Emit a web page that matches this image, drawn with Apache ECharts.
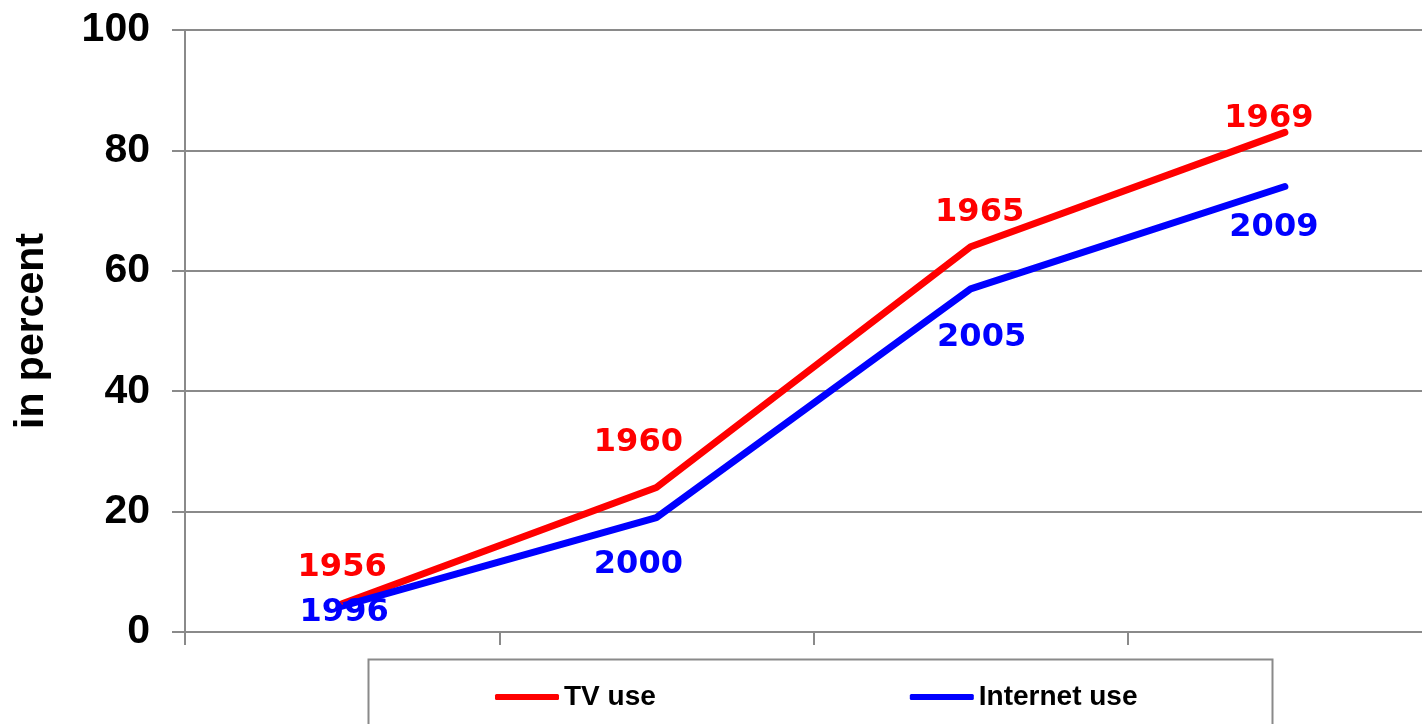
<!DOCTYPE html>
<html>
<head>
<meta charset="utf-8">
<script src="https://cdn.jsdelivr.net/npm/echarts@6/dist/echarts.min.js"></script>
<style>
    html, body { margin: 0; padding: 0; background: #fff; }
    #main { width: 1422px; height: 724px; }
</style>
</head>
<body>
<div id="main"></div>
<script>
// data
var categories = ['1956 / 1996', '1960 / 2000', '1965 / 2005', '1969 / 2009'];
var tvYears = ['1956', '1960', '1965', '1969'];
var netYears = ['1996', '2000', '2005', '2009'];
var tvUse = [4.7, 24, 64, 83];
var internetUse = [4.3, 19, 57, 74];
var yTicks = [0, 20, 40, 60, 80, 100];

// label placement (px from the point), layout only
var tvLabelShift = [[0, -36], [-18, -45], [9, -34], [-16, -14]];
var netLabelShift = [[2, 7], [-18, 47], [11, 49], [-11, 41]];

var GRAY = '#8a8a8a';
var chart = echarts.init(document.getElementById('main'));

var buildData = function (values, shifts) {
    return values.map(function (v, i) {
        return {value: v, label: {offset: shifts[i]}};
    });
};

var option = {
    backgroundColor: '#fff',
    animation: false,
    grid: {left: 185, top: 30, bottom: 92, right: -20, containLabel: false, outerBoundsMode: 'none'},
    xAxis: {
        type: 'category',
        data: categories,
        boundaryGap: true,
        axisLine: {lineStyle: {color: GRAY, width: 2}},
        axisTick: {show: true, length: 13, lineStyle: {color: GRAY, width: 2}},
        axisLabel: {show: false},
        splitLine: {show: false}
    },
    yAxis: {
        type: 'value',
        min: yTicks[0],
        max: yTicks[yTicks.length - 1],
        interval: 20,
        name: 'in percent',
        nameLocation: 'middle',
        nameGap: 133,
        nameRotate: 90,
        nameTextStyle: {fontFamily: 'Liberation Sans, Arial', fontWeight: 'bold', fontSize: 41, color: '#000'},
        axisLine: {show: true, lineStyle: {color: GRAY, width: 2}},
        axisTick: {show: true, length: 13, lineStyle: {color: GRAY, width: 2}},
        axisLabel: {
            margin: 35,
            fontFamily: 'Liberation Sans, Arial',
            fontWeight: 'bold',
            fontSize: 41,
            color: '#000'
        },
        splitLine: {show: true, lineStyle: {color: GRAY, width: 2}}
    },
    legend: {
        left: 490,
        top: 678,
        itemGap: 254,
        itemWidth: 64,
        itemHeight: 6,
        icon: 'roundRect',
        textStyle: {fontFamily: 'Liberation Sans, Arial', fontWeight: 'bold', fontSize: 28, color: '#000', lineHeight: 28},
        data: ['TV use', 'Internet use']
    },
    graphic: [{
        type: 'rect',
        left: 366,
        top: 657,
        shape: {width: 904, height: 100},
        style: {fill: 'none', stroke: GRAY, lineWidth: 2},
        silent: true
    }],
    series: [
        {
            name: 'TV use',
            type: 'line',
            data: buildData(tvUse, tvLabelShift),
            color: '#ff0000',
            symbol: 'circle',
            symbolSize: 2,
            showSymbol: true,
            lineStyle: {width: 7, color: '#ff0000', cap: 'round', join: 'round'},
            label: {
                show: true,
                position: 'inside',
                formatter: function (p) { return tvYears[p.dataIndex]; },
                fontFamily: 'DejaVu Sans',
                fontWeight: 'bold',
                fontSize: 32,
                color: '#ff0000'
            }
        },
        {
            name: 'Internet use',
            type: 'line',
            data: buildData(internetUse, netLabelShift),
            color: '#0000ff',
            symbol: 'circle',
            symbolSize: 2,
            showSymbol: true,
            lineStyle: {width: 7, color: '#0000ff', cap: 'round', join: 'round'},
            label: {
                show: true,
                position: 'inside',
                formatter: function (p) { return netYears[p.dataIndex]; },
                fontFamily: 'DejaVu Sans',
                fontWeight: 'bold',
                fontSize: 32,
                color: '#0000ff'
            }
        }
    ]
};
chart.setOption(option);
</script>
</body>
</html>
